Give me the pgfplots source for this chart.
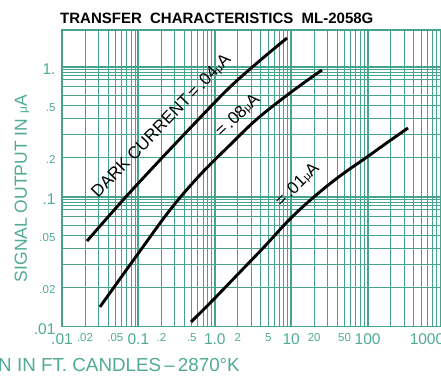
\documentclass[border=0pt]{standalone}
\usepackage{fontspec}
\setmainfont{Liberation Sans}
\usepackage{pgfplots}
\pgfplotsset{compat=1.18}
\definecolor{gridgreen}{RGB}{70,164,142}
\definecolor{labgreen}{RGB}{80,170,148}
\newcommand{\Lg}{\fontsize{15.5}{16}\selectfont}
\newcommand{\Sm}{\fontsize{11.5}{12}\selectfont}
\begin{document}
\begin{tikzpicture}
\begin{axis}[
  at={(0,0)}, anchor=south west,
  scale only axis, width=382pt, height=296.7pt,
  xmode=log, ymode=log,
  xmin=0.01, xmax=1000, ymin=0.01, ymax=1.916,
  axis line style={gridgreen, line width=1.4pt},
  major tick length=0pt, minor tick length=0pt,
  xtick={0.01,0.02,0.05,0.1,0.2,0.5,1,2,5,10,20,50,100,1000},
  xticklabels={{\Lg .01},{\Sm .02},{\Sm .05},{\Lg 0.1},{\Sm .2},{\Sm .5},{\Lg 1.0},{\Sm 2},{\Sm 5},{\Lg 10},{\Sm 20},{\Sm 50},{\Lg 100},{\Lg\makebox[0pt]{\hspace{-34pt}1000}}},
  ytick={0.01,0.02,0.05,0.1,0.2,0.5,1},
  yticklabels={{\Lg .01},{\Sm .02},{\Sm .05},{\Lg .1},{\Sm .2},{\Sm .5},{\Lg 1.}},
  tick label style={text=labgreen},
  xticklabel style={yshift=-3pt},
  yticklabel style={xshift=-3pt, yshift=-2pt},
  minor xtick={0.02,0.03,0.04,0.05,0.06,0.07,0.08,0.09,
               0.2,0.3,0.4,0.5,0.6,0.7,0.8,0.9,
               2,3,4,5,6,7,8,9,20,30,40,50,60,70,80,90,
               200,300,400,500,600,700,800,900},
  minor ytick={0.02,0.03,0.04,0.05,0.06,0.07,0.08,0.085,0.09,0.095,
               0.2,0.3,0.4,0.5,0.6,0.7,0.8,0.85,0.9,0.95},
  xminorgrids=true, yminorgrids=true,
  minor grid style={gridgreen, line width=0.8pt},
  extra x ticks={0.1,1,10,100},
  extra y ticks={0.1,1},
  extra x tick labels={}, extra y tick labels={},
  extra tick style={grid=major, major grid style={gridgreen, line width=2pt}},
  clip=true,
]
\addplot[black, line width=2.9pt, smooth, tension=0.6] coordinates {
  (0.02125,0.0456) (0.0629,0.0943) (0.1917,0.1916) (0.551,0.369)
  (1.489,0.674) (3.57,1.067) (8.81,1.663)};
\addplot[black, line width=2.9pt, smooth, tension=0.6] coordinates {
  (0.0314,0.0142) (0.0903,0.0338) (0.259,0.0790) (0.640,0.1469)
  (1.581,0.250) (3.57,0.396) (9.64,0.628) (25.3,0.944)};
\addplot[black, line width=2.9pt, smooth, tension=0.6] coordinates {
  (0.488,0.01087) (0.947,0.01604) (2.14,0.02635) (4.54,0.04176)
  (9.64,0.0674) (20.5,0.1012) (43.5,0.1443) (98.2,0.2019)
  (185,0.2635) (338,0.3377)};
\node[rotate=46, font=\fontsize{17}{17}\selectfont] at (axis cs:0.2,0.35)
  {DARK CURRENT\,=\,.04{\fontsize{11}{11}\selectfont μ}A};
\node[rotate=44, font=\fontsize{17}{17}\selectfont] at (axis cs:2.0,0.42)
  {=\,.08{\fontsize{11}{11}\selectfont μ}A};
\node[rotate=45, font=\fontsize{17}{17}\selectfont] at (axis cs:12.0,0.123)
  {=\,.01{\fontsize{11}{11}\selectfont μ}A};
\end{axis}
\node[anchor=base west, font=\fontsize{15}{16}\selectfont\bfseries, inner sep=0pt]
  at (-2pt,302.7pt) {TRANSFER\hspace{0.55em}CHARACTERISTICS\hspace{0.55em}ML-2058G};
\node[rotate=90, font=\fontsize{17.5}{18}\selectfont, text=labgreen, inner sep=0pt]
  at (-40pt,138pt) {SIGNAL OUTPUT IN {\fontsize{12}{12}\selectfont μ}A};
\node[anchor=base east, font=\fontsize{18.8}{19}\selectfont, text=labgreen, inner sep=0pt]
  at (178pt,-45.3pt) {ILLUMINATION IN FT. CANDLES\,–\,2870°K};
\pgfresetboundingbox
\path[use as bounding box] (-62pt,-52.3pt) rectangle (379pt,326.7pt);
\end{tikzpicture}
\end{document}
